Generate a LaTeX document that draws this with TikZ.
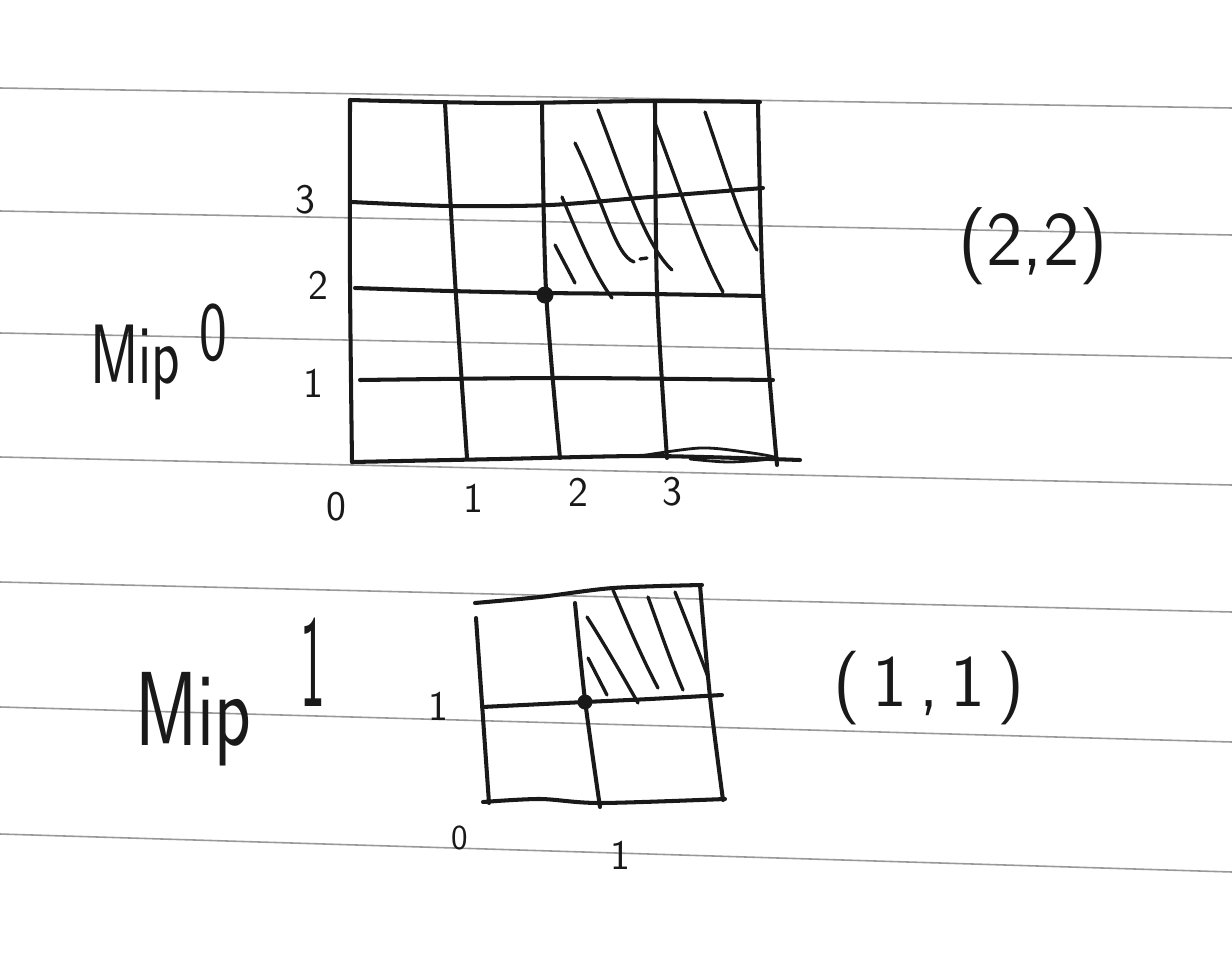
\documentclass[tikz,border=0pt]{standalone}
\usepackage{fontspec}
\usepackage{graphicx}
\begin{document}
\begin{tikzpicture}[x=0.02cm,y=-0.02cm,
  rule/.style={draw=black!40, line width=0.9pt},
  ink/.style={draw=black!90, line width=2.3pt, line cap=round, line join=round},
  hatch/.style={draw=black!90, line width=1.9pt, line cap=round},
  lbl/.style={font=\sffamily, inner sep=0pt, text=black!90},
  ax/.style={lbl, font=\fontsize{24}{24}\selectfont\sffamily},
  pt/.style={fill=black!90}]
\useasboundingbox[fill=white] (0,0) rectangle (1232,954);
% ruled paper lines
\draw[rule] (0,88) -- (1232,108);
\draw[rule] (0,211) -- (1232,235);
\draw[rule] (0,333) -- (1232,358);
\draw[rule] (0,457) -- (1232,485);
\draw[rule] (0,582) -- (1232,612);
\draw[rule] (0,707) -- (1232,742);
\draw[rule] (0,834) -- (1232,872);
% ---------- Mip 0 grid ----------
\draw[ink] plot[smooth] coordinates {(350,100) (500,103) (650,101) (760,102)};
\draw[ink] plot[smooth] coordinates {(352,202) (450,206) (550,205) (650,197) (763,188)};
\draw[ink] plot[smooth] coordinates {(355,288) (450,291) (545,293) (650,294) (763,296)};
\draw[ink] plot[smooth] coordinates {(360,380) (560,378) (773,380)};
\draw[ink] plot[smooth] coordinates {(352,462) (500,459) (650,456) (800,460)};
\draw[ink, line width=1.6pt] plot[smooth] coordinates {(640,456) (700,448) (745,452) (775,458) (730,462) (690,459)};
\draw[ink] plot[smooth] coordinates {(350,100) (350,280) (352,462)};
\draw[ink] plot[smooth] coordinates {(445,103) (455,280) (467,458)};
\draw[ink] plot[smooth] coordinates {(542,103) (546,290) (560,458)};
\draw[ink] plot[smooth] coordinates {(655,103) (657,290) (667,458)};
\draw[ink] plot[smooth] coordinates {(758,103) (763,290) (777,465)};
% hatching Mip 0
\draw[hatch] (575,143) .. controls (605,205) and (615,255) .. (634,262);
\draw[hatch] (640,259) -- (647,258);
\draw[hatch] (598,110) .. controls (625,180) and (645,245) .. (672,270);
\draw[hatch] (655,123) .. controls (680,190) and (700,250) .. (723,292);
\draw[hatch] (705,112) .. controls (725,170) and (740,220) .. (757,250);
\draw[hatch] (562,197) .. controls (580,240) and (595,275) .. (612,298);
\draw[hatch] (555,245) -- (575,283);
\fill[pt] (545,295) circle[radius=0.17cm];
% ---------- Mip 1 grid ----------
\draw[ink] plot[smooth] coordinates {(475,603) (540,597) (613,588) (702,585)};
\draw[ink] plot[smooth] coordinates {(482,707) (585,702) (650,699) (722,695)};
\draw[ink] plot[smooth] coordinates {(483,802) (540,799) (600,803) (725,799)};
\draw[ink] (476,618) -- (489,803);
\draw[ink] plot[smooth] coordinates {(575,603) (585,700) (600,807)};
\draw[ink] plot[smooth] coordinates {(700,585) (710,697) (723,800)};
% hatching Mip 1
\draw[hatch] (587,617) .. controls (605,645) and (625,680) .. (638,703);
\draw[hatch] (613,590) .. controls (628,625) and (643,660) .. (658,688);
\draw[hatch] (648,597) .. controls (660,630) and (670,660) .. (683,690);
\draw[hatch] (675,592) .. controls (688,625) and (698,650) .. (708,677);
\draw[hatch] (588,658) -- (607,695);
\fill[pt] (585,702) circle[radius=0.15cm];
% ---------- labels ----------
\node[lbl, font=\fontsize{48}{48}\selectfont\sffamily, anchor=base west] (mip0) at (90,383)
  {\scalebox{0.7}[1]{Mip}\hspace{11pt}\raisebox{13pt}{\scalebox{0.7}[1]{0}}};
\node[lbl, font=\fontsize{60}{60}\selectfont\sffamily, anchor=base west] (mip1) at (135,745)
  {\scalebox{0.72}[1]{Mip}\hspace{28pt}\raisebox{22pt}{\scalebox{0.5}[1.25]{1}}};
\node[lbl, font=\fontsize{44}{44}\selectfont\sffamily] (c22) at (1033,246) {(2,2)};
\node[lbl, font=\fontsize{42}{42}\selectfont\sffamily] (c11) at (929,688) {(\,1\,,\,1\,)};
% axis Mip 0
\node[ax] (y3) at (305,200) {3};
\node[ax] (y2) at (318,285) {2};
\node[ax] (y1) at (313,383) {1};
\node[ax] (x0) at (336,507) {0};
\node[ax] (x1) at (473,498) {1};
\node[ax] (x2) at (578,492) {2};
\node[ax] (x3) at (672,492) {3};
% axis Mip 1
\node[ax] (m1y1) at (438,706) {1};
\node[ax, font=\fontsize{20}{20}\selectfont\sffamily] (m1x0) at (460,838) {0};
\node[ax] (m1x1) at (620,855) {1};
\end{tikzpicture}
\end{document}
